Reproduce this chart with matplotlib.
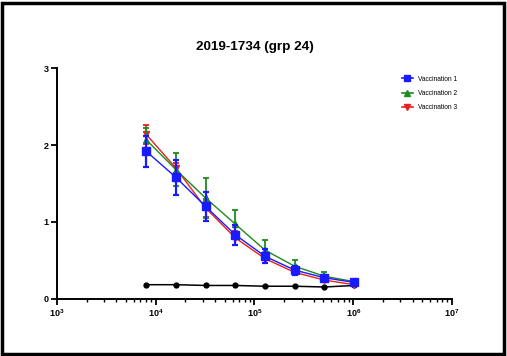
import matplotlib
matplotlib.use("Agg")
import matplotlib.pyplot as plt
from matplotlib.patches import Rectangle
from matplotlib.lines import Line2D
from matplotlib.ticker import LogLocator, FixedLocator

plt.rcParams['font.family'] = ['Liberation Sans', 'DejaVu Sans']

# dilutions
dilution = [8000, 16000, 32000, 64000, 128000, 256000, 512000, 1024000]

vacc1 = [1.92, 1.58, 1.20, 0.83, 0.55, 0.37, 0.27, 0.21]
vacc1_err = [0.20, 0.23, 0.19, 0.13, 0.09, 0.06, 0.04, 0.03]
vacc2 = [2.07, 1.68, 1.31, 0.97, 0.63, 0.42, 0.29, 0.22]
vacc2_err = [0.15, 0.22, 0.26, 0.18, 0.13, 0.08, 0.05, 0.03]
vacc3 = [2.14, 1.70, 1.18, 0.79, 0.52, 0.34, 0.24, 0.18]
vacc3_err = [0.12, 0.06, 0.12, 0.09, 0.06, 0.04, 0.03, 0.02]
control = [0.18, 0.18, 0.17, 0.17, 0.16, 0.16, 0.15, 0.17]

fig = plt.figure(figsize=(5.07, 3.56), dpi=100)
ax = fig.add_axes([0.1124, 0.1615, 0.779, 0.6465])

ax.plot(dilution, control, color='black', marker='o', markersize=3.5, lw=1.1, zorder=2)
ax.errorbar(dilution, vacc3, yerr=vacc3_err, color='#e82020', marker='v', markersize=5,
            lw=1, capsize=2.5, elinewidth=1.3, capthick=1.3, zorder=3)
ax.errorbar(dilution, vacc2, yerr=vacc2_err, color='#1f8a1f', marker='^', markersize=5,
            lw=1, capsize=2.5, elinewidth=1.3, capthick=1.3, zorder=4)
ax.errorbar(dilution, vacc1, yerr=vacc1_err, color='#1a1aff', marker='s', markersize=5.5,
            lw=1, capsize=2.5, elinewidth=1.6, capthick=1.6, zorder=5)

ax.set_xscale('log')
ax.set_xlim(1e3, 1e7)
ax.set_ylim(0, 3)
ax.yaxis.set_major_locator(FixedLocator([0, 1, 2, 3]))
ax.xaxis.set_major_locator(LogLocator(base=10, numticks=10))
ax.xaxis.set_minor_locator(LogLocator(base=10, subs=range(2, 10), numticks=40))

for s in ['top', 'right']:
    ax.spines[s].set_visible(False)
for s in ['left', 'bottom']:
    ax.spines[s].set_linewidth(1.4)
ax.tick_params(which='major', length=4, width=1.3, labelsize=6.5, pad=2)
ax.tick_params(which='minor', length=2.5, width=1.0)
for lab in ax.get_xticklabels() + ax.get_yticklabels():
    lab.set_fontweight('bold')

ax.set_title('2019-1734 (grp 24)', fontsize=9.7, fontweight='bold', pad=13)

handles = [
    Line2D([], [], color='#1a1aff', marker='s', markersize=5, lw=1.2),
    Line2D([], [], color='#1f8a1f', marker='^', markersize=5, lw=1.2),
    Line2D([], [], color='#e82020', marker='v', markersize=5, lw=1.2),
]
ax.legend(handles, ['Vaccination 1', 'Vaccination 2', 'Vaccination 3'], loc='upper right',
          bbox_to_anchor=(1.02, 0.98), frameon=False, fontsize=4.8, handlelength=1.6,
          labelspacing=1.1, borderaxespad=0)

fig.patches.append(Rectangle((0.004, 0.006), 0.99, 0.985, transform=fig.transFigure,
                             fill=False, edgecolor='black', linewidth=2.5))

fig.savefig('out.png', dpi=100)
